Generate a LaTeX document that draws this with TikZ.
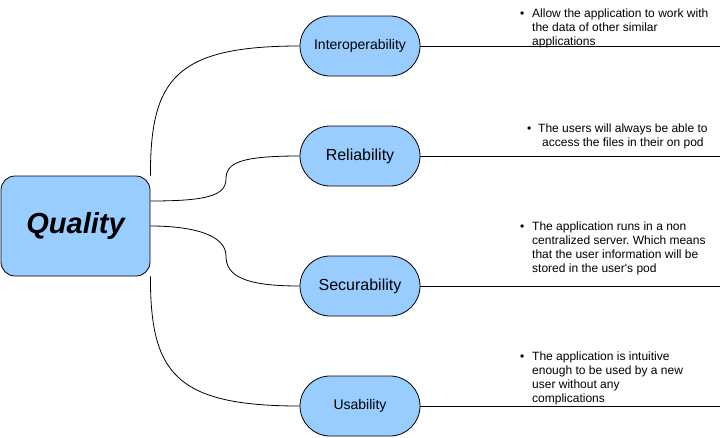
\documentclass[tikz,border=0pt]{standalone}
\usepackage{fontspec}
\setmainfont{Liberation Sans}
\usetikzlibrary{calc}
\definecolor{boxblue}{HTML}{99CCFF}
\frenchspacing
\begin{document}
\begin{tikzpicture}[x=1pt,y=-1pt,
  pill/.style={draw=black, fill=boxblue, rounded corners=30pt, minimum width=120pt, minimum height=60pt, inner sep=0pt, line width=0.8pt},
  mainbox/.style={draw=black, fill=boxblue, rounded corners=14pt, minimum width=149pt, minimum height=100pt, inner sep=0pt, line width=0.8pt},
  conn/.style={draw=black, line width=0.8pt},
  note/.style={anchor=base west, inner sep=0pt, font=\fontsize{12}{14}\selectfont}]
\useasboundingbox (0,0) rectangle (722,437);
\fill[white] (0,0) rectangle (722,437);

\node[mainbox] (q) at (75.5,226) {\raisebox{-0.8pt}{\fontsize{29}{32}\selectfont\bfseries\itshape Quality}};

\node[pill, font=\fontsize{14}{16}\selectfont] (io) at (360,46) {Interoperability};
\node[pill, font=\fontsize{16}{18}\selectfont] (re) at (360,156) {Reliability};
\node[pill, font=\fontsize{16}{18}\selectfont] (se) at (360,286) {Securability};
\node[pill, font=\fontsize{14}{16}\selectfont] (us) at (360,406) {Usability};

% connectors from Quality
\coordinate (rs) at ($(q.east)+(0,-25)$);
\coordinate (ss) at ($(q.east)+(0,0)$);
\coordinate (rm) at (226,179);
\coordinate (sm) at (226,256);

\draw[conn] (q.north east) .. controls +(0,-96) and +(-125,0) .. (io.west);
\draw[conn] (rs) .. controls +(55,0) and +(0,17) .. (rm) .. controls +(0,-16) and +(-60,0) .. (re.west);
\draw[conn] (ss) .. controls +(40,0) and +(0,-22) .. (sm) .. controls +(0,20) and +(-55,0) .. (se.west);
\draw[conn] (q.south east) .. controls +(0,96) and +(-125,0) .. (us.west);

% horizontal lines
\coordinate (ioe) at (720,46);
\coordinate (ree) at (720,156);
\coordinate (see) at (720,286);
\coordinate (use) at (720,406);
\draw[conn] (io.east) -- (ioe);
\draw[conn] (re.east) -- (ree);
\draw[conn] (se.east) -- (see);
\draw[conn] (us.east) -- (use);

% notes
\node[note] (n1) at (520,17.8) {\begin{tabular}[t]{@{}l@{\hspace{7.8pt}}l@{}}\textbullet & Allow the application to work with\\ & the data of other similar\\ & applications\end{tabular}};
\node[note] (n2) at (527,132.3) {\begin{tabular}[t]{@{}l@{\hspace{6.8pt}}c@{}}\textbullet & The users will always be able to\\ & access the files in their on pod\end{tabular}};
\node[note] (n3) at (520,230) {\begin{tabular}[t]{@{}l@{\hspace{7.8pt}}l@{}}\textbullet & The application runs in a non\\ & centralized server. Which means\\ & that the user information will be\\ & stored in the user\textquotesingle s pod\end{tabular}};
\node[note] (n4) at (520,360) {\begin{tabular}[t]{@{}l@{\hspace{7.8pt}}l@{}}\textbullet & The application is intuitive\\ & enough to be used by a new\\ & user without any\\ & complications\end{tabular}};
\end{tikzpicture}
\end{document}
